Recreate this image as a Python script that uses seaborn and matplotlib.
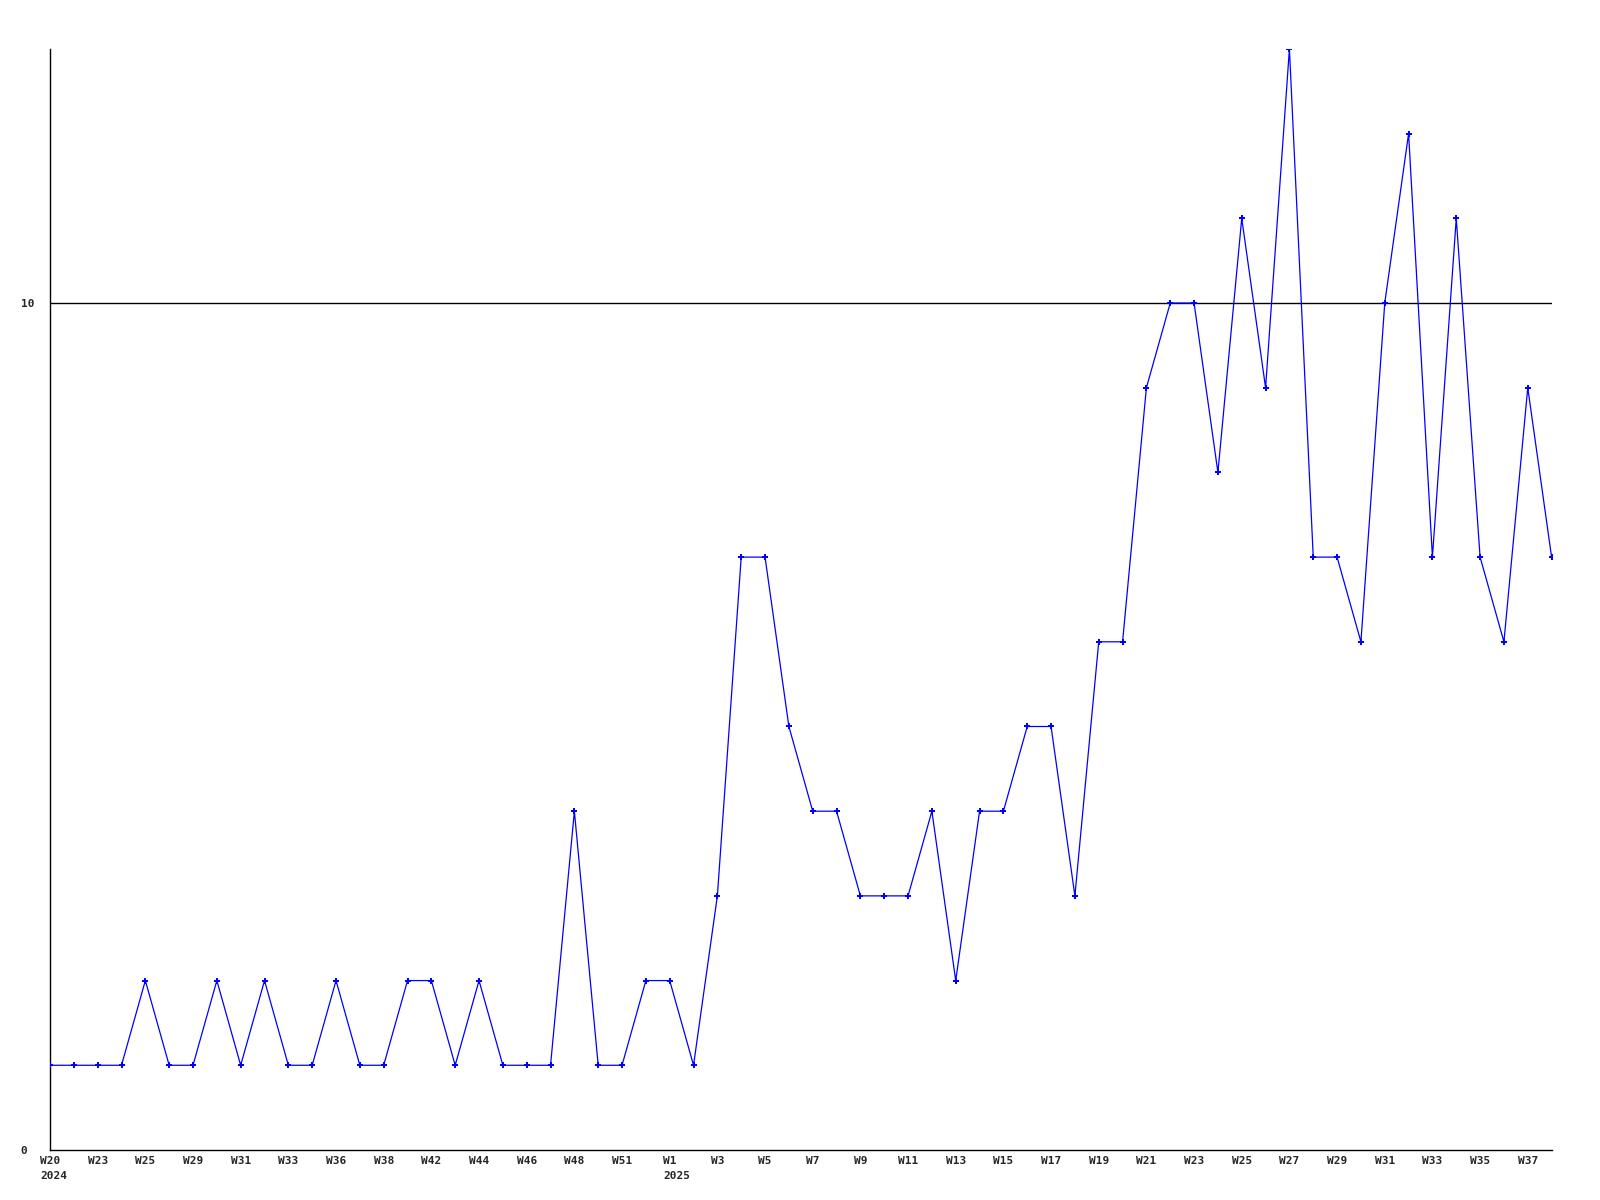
"""
Weekly count chart, 2024 W20 - 2025 W38
"""
import matplotlib
matplotlib.use('Agg')
import matplotlib.pyplot as plt
import matplotlib.transforms as mtransforms
import seaborn as sns
import pandas as pd
import numpy as np

# values per data point
counts = [1, 1, 1, 1, 2, 1, 1, 2, 1, 2, 1, 1, 2, 1, 1, 2, 2, 1, 2, 1, 1, 1, 4, 1,
          1, 2, 2, 1, 3, 7, 7, 5, 4, 4, 3, 3, 3, 4, 2, 4, 4, 5, 5, 3, 6, 6, 9, 10,
          10, 8, 11, 9, 13, 7, 7, 6, 10, 12, 7, 11, 7, 6, 9, 7]

# tick labels, one on every second point
tick_labels = ['W20', 'W23', 'W25', 'W29', 'W31', 'W33', 'W36', 'W38', 'W42',
               'W44', 'W46', 'W48', 'W51', 'W1', 'W3', 'W5', 'W7', 'W9', 'W11',
               'W13', 'W15', 'W17', 'W19', 'W21', 'W23', 'W25', 'W27', 'W29', 'W31',
               'W33', 'W35', 'W37']
year_labels = {'W20': '2024', 'W1': '2025'}
y_ticks = [0, 10]

df = pd.DataFrame({'idx': np.arange(len(counts)), 'count': counts})

sns.set_style('white')
plt.rcParams['font.family'] = ['DejaVu Sans Mono']

fig = plt.figure(figsize=(16, 12), dpi=100)
ax = fig.add_axes([0.03125, 0.0417, 0.9385, 0.9175])

ax.axhline(10, color='black', linewidth=1.0, zorder=1)
sns.lineplot(data=df, x='idx', y='count', ax=ax, color='#0000ff', linewidth=0.9,
             marker='P', markersize=4, markeredgewidth=0, zorder=3)

tick_pos = df['idx'].values[::2]
ax.set_xlim(0, len(counts) - 1)
ax.set_ylim(0, 13)
ax.set_xticks(tick_pos)
ax.set_xticklabels(tick_labels, fontsize=8, fontweight='bold')
ax.set_yticks(y_ticks)
ax.set_yticklabels([str(v) for v in y_ticks], fontsize=8, fontweight='bold', ha='left')
ax.tick_params(axis='both', length=0)
ax.tick_params(axis='x', pad=4)
ax.tick_params(axis='y', pad=21)
ax.set_xlabel('')
ax.set_ylabel('')

# year under the first week of each year, left-aligned with the week label
char_w = 0.6 * 8
for pos, lab in zip(tick_pos, tick_labels):
    if lab in year_labels:
        tr = mtransforms.offset_copy(ax.get_xaxis_transform(), fig=fig,
                                     x=-char_w * len(lab) / 2, y=-15, units='points')
        ax.text(pos, 0, year_labels[lab], transform=tr, ha='left', va='top',
                fontsize=8, fontweight='bold')

for side in ['top', 'right']:
    ax.spines[side].set_visible(False)
for side in ['left', 'bottom']:
    ax.spines[side].set_color('black')
    ax.spines[side].set_linewidth(1.0)

plt.savefig('out.png', dpi=100)
plt.close()
